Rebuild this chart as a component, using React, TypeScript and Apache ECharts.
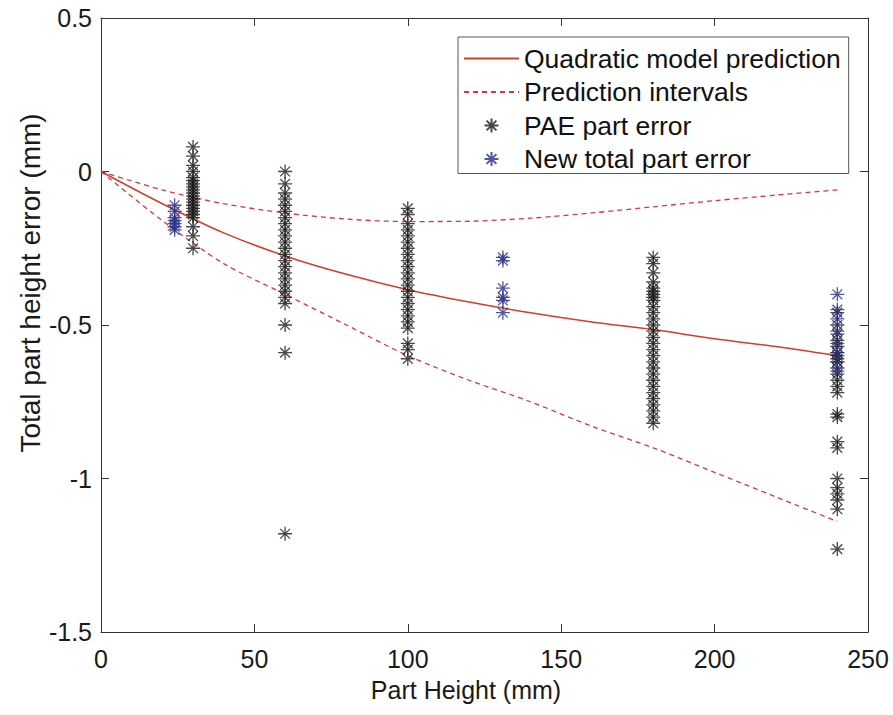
import React, { useEffect, useRef } from "react";
import * as echarts from "echarts";

// ---- Data ----
const curveX = [0, 20, 40, 60, 80, 100, 120, 140, 160, 180, 200, 220, 240];
const modelY = [0, -0.105, -0.2, -0.275, -0.335, -0.385, -0.425, -0.46, -0.49, -0.515, -0.545, -0.57, -0.6];
const upperPI = [0, -0.06, -0.105, -0.135, -0.155, -0.163, -0.162, -0.152, -0.135, -0.115, -0.095, -0.077, -0.06];
const lowerPI = [0, -0.16, -0.3, -0.4, -0.5, -0.6, -0.68, -0.75, -0.83, -0.9, -0.98, -1.06, -1.14];

const paeHeights = [30, 60, 100, 180, 240];
const pae30 = [0.08, 0.05, 0.02, 0.0, -0.02, -0.03, -0.04, -0.05, -0.06, -0.07, -0.08, -0.09, -0.1, -0.11, -0.12, -0.13, -0.14, -0.15, -0.18, -0.21, -0.25];
const pae60 = [0.0, -0.04, -0.07, -0.09, -0.11, -0.13, -0.15, -0.17, -0.19, -0.21, -0.23, -0.25, -0.27, -0.29, -0.31, -0.33, -0.35, -0.37, -0.39, -0.41, -0.43, -0.5, -0.59, -1.18];
const pae100 = [-0.12, -0.14, -0.17, -0.19, -0.21, -0.23, -0.25, -0.27, -0.29, -0.31, -0.33, -0.35, -0.37, -0.39, -0.41, -0.43, -0.45, -0.47, -0.49, -0.51, -0.56, -0.58, -0.61];
const pae180 = [-0.28, -0.3, -0.33, -0.36, -0.38, -0.39, -0.4, -0.41, -0.42, -0.44, -0.46, -0.48, -0.5, -0.52, -0.54, -0.56, -0.58, -0.6, -0.62, -0.64, -0.66, -0.68, -0.7, -0.72, -0.74, -0.76, -0.78, -0.8, -0.82];
const pae240 = [-0.46, -0.5, -0.53, -0.55, -0.57, -0.59, -0.6, -0.61, -0.62, -0.64, -0.66, -0.68, -0.7, -0.72, -0.79, -0.8, -0.88, -0.9, -1.0, -1.03, -1.05, -1.07, -1.1, -1.23];
const paeErrors = [pae30, pae60, pae100, pae180, pae240];

const newHeights = [24, 131, 240];
const new24 = [-0.11, -0.13, -0.15, -0.16, -0.17, -0.18, -0.19];
const new131 = [-0.28, -0.29, -0.38, -0.41, -0.42, -0.46];
const new240 = [-0.4, -0.45, -0.48, -0.52, -0.56, -0.59, -0.62, -0.65];
const newErrors = [new24, new131, new240];

const xTicks = [0, 50, 100, 150, 200, 250];
const yTicks = [-1.5, -1, -0.5, 0, 0.5];

const seriesNames = ["Quadratic model prediction", "Prediction intervals", "PAE part error", "New total part error"];
const xTitle = "Part Height (mm)";
const yTitle = "Total part height error (mm)";

const FONT = "'Liberation Sans', Arial, Helvetica, sans-serif";
const STAR = "path://M5 0L5 10M0 5L10 5M1.5 1.5L8.5 8.5M1.5 8.5L8.5 1.5";

function pairs(xs: number[], ys: number[]) {
  return xs.map((x, i) => [x, ys[i]]);
}
function groups(hs: number[], vals: number[][]) {
  const out: number[][] = [];
  hs.forEach((h, i) => vals[i].forEach((v) => out.push([h, v])));
  return out;
}

export default function App() {
  const ref = useRef<HTMLDivElement>(null);
  useEffect(() => {
    if (!ref.current) return;
    const chart = echarts.init(ref.current, null, { renderer: "svg" });
    const axisCommon = {
      type: "value" as const,
      axisLine: { show: true, onZero: false, lineStyle: { color: "#333", width: 1 } },
      axisTick: { show: true, inside: true, length: 8, lineStyle: { color: "#333" } },
      splitLine: { show: false },
    };
    chart.setOption({
      animation: false,
      backgroundColor: "#fff",
      grid: { left: 101, top: 18, right: 25, bottom: 83, containLabel: false },
      xAxis: [
        {
          ...axisCommon,
          min: 0,
          max: 250,
          interval: 50,
          position: "bottom",
          axisLabel: { show: true, margin: 14, fontSize: 25, color: "#1a1a1a", fontFamily: FONT,
            formatter: (v: number) => (xTicks.includes(v) ? String(v) : "") },
        },
        { ...axisCommon, min: 0, max: 250, interval: 50, position: "top", axisLabel: { show: false } },
      ],
      yAxis: [
        {
          ...axisCommon,
          min: -1.5,
          max: 0.5,
          interval: 0.5,
          position: "left",
          axisLabel: { show: true, margin: 9, fontSize: 25, color: "#1a1a1a", fontFamily: FONT,
            formatter: (v: number) => (yTicks.includes(v) ? String(v) : "") },
        },
        { ...axisCommon, min: -1.5, max: 0.5, interval: 0.5, position: "right", axisLabel: { show: false } },
      ],
      legend: {
        data: [
          { name: seriesNames[0], itemStyle: { opacity: 0 } },
          { name: seriesNames[1], itemStyle: { opacity: 0 } },
          { name: seriesNames[2] },
          { name: seriesNames[3] },
        ],
        orient: "vertical",
        left: 458,
        top: 37,
        backgroundColor: "#fff",
        borderColor: "#555",
        borderWidth: 1,
        borderRadius: 0,
        padding: [8, 8, 1, 5],
        itemWidth: 55,
        itemHeight: 14,
        itemGap: 6.5,
        textStyle: { fontSize: 26.5, color: "#111", fontFamily: FONT, lineHeight: 25 },
        selectedMode: false,
      },
      graphic: [
        {
          type: "text",
          x: 30,
          y: 283,
          rotation: Math.PI / 2,
          style: {
            text: yTitle,
            fontSize: 28,
            fontFamily: FONT,
            fill: "#1a1a1a",
            textAlign: "center",
            textVerticalAlign: "middle",
          },
        },
        {
          type: "text",
          x: 466,
          y: 690,
          style: {
            text: xTitle,
            fontSize: 25,
            fontFamily: FONT,
            fill: "#1a1a1a",
            textAlign: "center",
            textVerticalAlign: "middle",
          },
        },
      ],
      series: [
        {
          name: seriesNames[0],
          type: "line",
          data: pairs(curveX, modelY),
          symbol: "none",
          smooth: 0.3,
          lineStyle: { color: "#cf3f2a", width: 1.5 },
          itemStyle: { color: "#cf3f2a" },
          z: 2,
        },
        {
          name: seriesNames[1],
          type: "line",
          data: pairs(curveX, upperPI),
          symbol: "none",
          smooth: 0.3,
          lineStyle: { color: "#d2364a", width: 1.3, type: [5, 4] },
          itemStyle: { color: "#d2364a" },
          z: 2,
        },
        {
          name: seriesNames[1],
          type: "line",
          data: pairs(curveX, lowerPI),
          symbol: "none",
          smooth: 0.3,
          lineStyle: { color: "#d2364a", width: 1.3, type: [5, 4] },
          itemStyle: { color: "#d2364a" },
          z: 2,
        },
        {
          name: seriesNames[2],
          type: "scatter",
          data: groups(paeHeights, paeErrors),
          symbol: STAR,
          symbolSize: 14,
          symbolKeepAspect: true,
          itemStyle: { color: "rgba(0,0,0,0)", borderColor: "#1a1a1a", borderWidth: 1.3 },
          z: 3,
        },
        {
          name: seriesNames[3],
          type: "scatter",
          data: groups(newHeights, newErrors),
          symbol: STAR,
          symbolSize: 14,
          symbolKeepAspect: true,
          itemStyle: { color: "rgba(0,0,0,0)", borderColor: "#262c85", borderWidth: 1.3 },
          z: 4,
        },
      ],
    });
    return () => chart.dispose();
  }, []);
  return <div ref={ref} style={{ position: "fixed", left: 0, top: 0, width: 893, height: 715 }} />;
}
